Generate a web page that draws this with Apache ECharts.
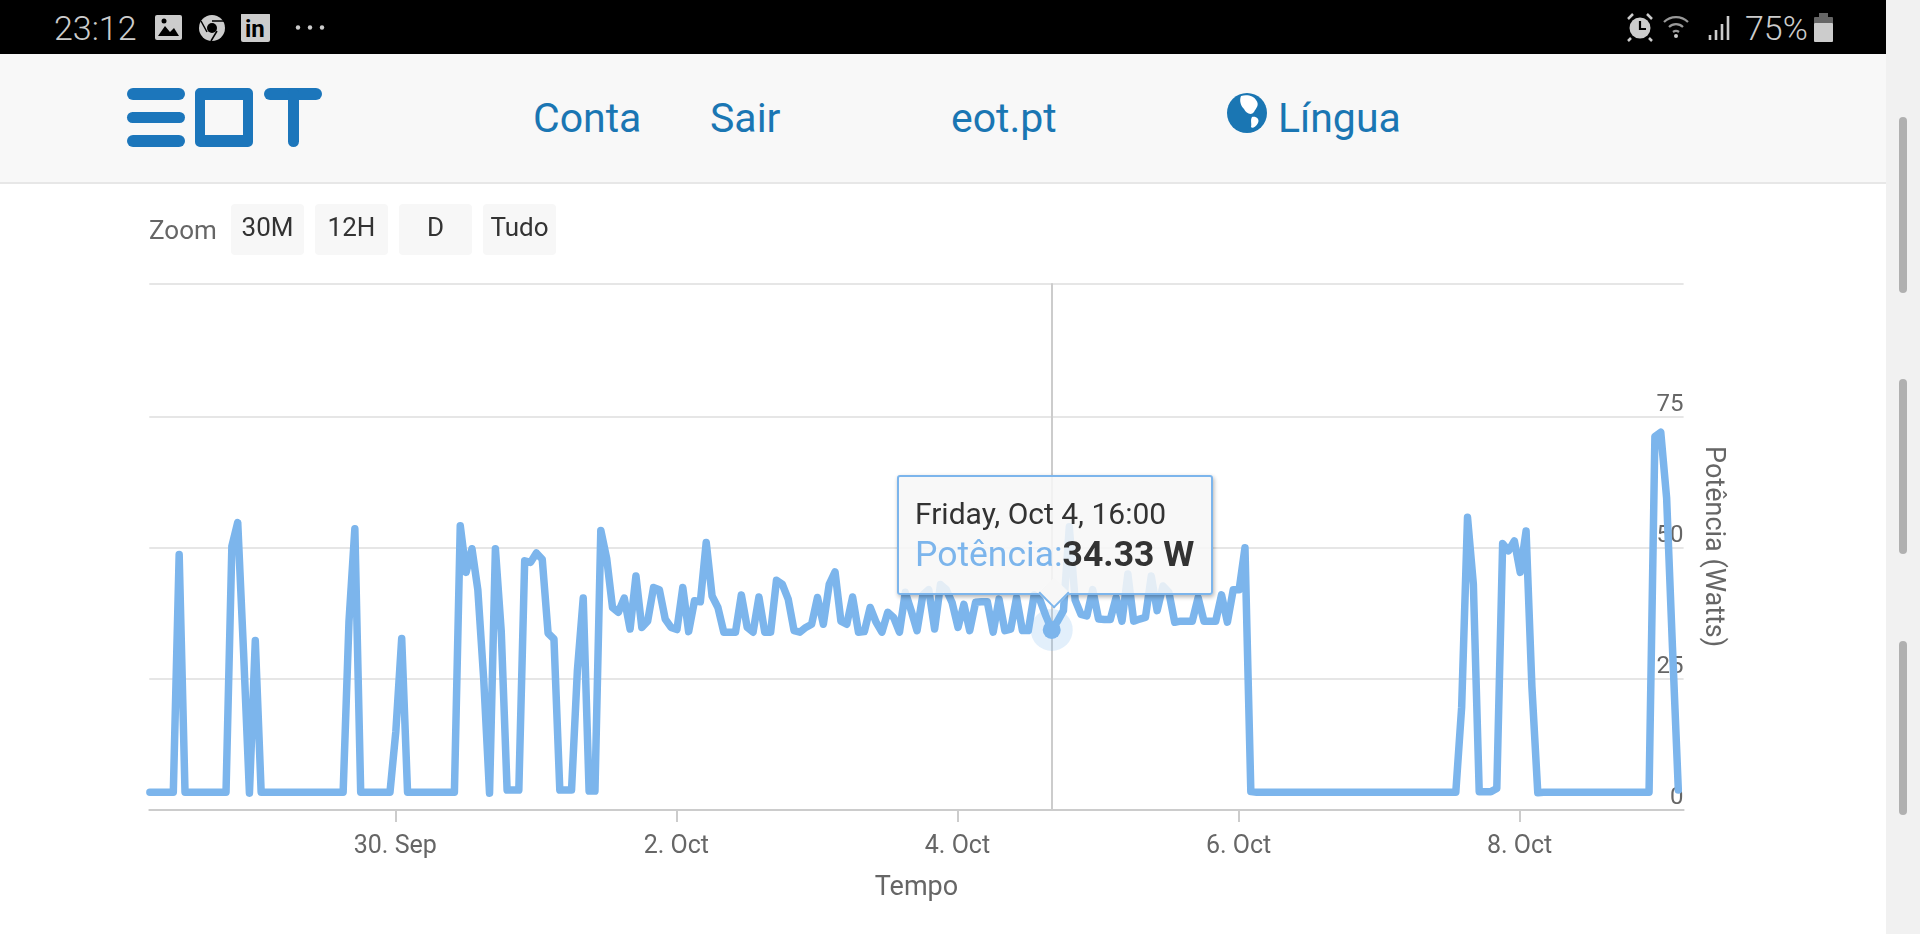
<!DOCTYPE html>
<html>
<head>
<meta charset="utf-8">
<title>EOT</title>
<script src="https://cdn.jsdelivr.net/npm/echarts@6/dist/echarts.min.js"></script>
<style>
html, body { margin: 0; padding: 0; background: #fff; overflow: hidden; font-family: Roboto, sans-serif; }
#chart { position: absolute; left: 0; top: 0; width: 1920px; height: 934px; }
.abs { position: absolute; white-space: nowrap; }
#status { left: 0; top: 0; width: 1886px; height: 54px; background: #000; }
#nav { left: 0; top: 54px; width: 1886px; height: 128px; background: #f8f8f8; border-bottom: 2px solid #e7e7e7; }
#rail { left: 1886px; top: 0; width: 34px; height: 934px; background: #f1f1f1; }
.bar { position: absolute; background: #1c76bb; border-radius: 6px; }
.link { position: absolute; color: #1a76b3; font-size: 41px; line-height: 46px; top: 41px; }
.btn { position: absolute; top: 204px; width: 73px; height: 51px; background: #f7f7f7; border-radius: 4px; color: #333; font-size: 26px; line-height: 46px; text-align: center; }
.thumb { position: absolute; left: 1899px; width: 8px; border-radius: 4px; background: #b0b0b0; }
</style>
</head>
<body>
<div id="chart"></div>

<div class="abs" id="rail"></div>
<div class="abs" id="status">
  <span class="abs" style="left:54px;top:9px;color:#ccc;font-size:34px;line-height:38px;font-weight:300">23:12</span>
  <svg class="abs" style="left:155px;top:14px" width="120" height="30" viewBox="0 0 120 30">
    <rect x="0" y="1" width="27" height="25" rx="2" fill="#ccc"/>
    <path d="M3 22 L10 12 L15 18 L19 14 L24 22 Z" fill="#000"/><circle cx="9" cy="7" r="2.5" fill="#000"/>
    <circle cx="57" cy="14" r="13" fill="#ccc"/><circle cx="57" cy="14" r="5" fill="#000"/><path d="M57 7 L69 7 M52 18 L46 7 M62 17 L56 27" stroke="#000" stroke-width="1.5"/>
    <rect x="86" y="-1" width="29" height="29" rx="2" fill="#ccc"/>
    <text x="90" y="23" font-family="Roboto" font-weight="700" font-size="24" fill="#000">in</text>
  </svg>
  <svg class="abs" style="left:294px;top:24px" width="34" height="8"><circle cx="4" cy="3.5" r="2.2" fill="#ccc"/><circle cx="16" cy="3.5" r="2.2" fill="#ccc"/><circle cx="28" cy="3.5" r="2.2" fill="#ccc"/></svg>
  <svg class="abs" style="left:1626px;top:12px" width="110" height="30" viewBox="0 0 110 30">
    <circle cx="14" cy="16" r="10.5" fill="#ccc"/><path d="M14 9 L14 17 L20 17" stroke="#000" stroke-width="2.2" fill="none"/>
    <path d="M2 7 L7 2 M21 2 L26 7 M5 26 L2 29 M23 26 L26 29" stroke="#ccc" stroke-width="2.5"/>
    <path d="M38 10 A17 17 0 0 1 62 10 M43 15 A10 10 0 0 1 57 15 M47 20 A5 5 0 0 1 53 20" stroke="#999" stroke-width="2.2" fill="none"/>
    <circle cx="50" cy="24" r="2" fill="#ccc"/>
    <path d="M84 28 V23 M90 28 V18 M96 28 V12 M102 28 V4" stroke="#ccc" stroke-width="2.6"/>
  </svg>
  <span class="abs" style="left:1745px;top:9px;color:#ccc;font-size:34px;line-height:38px;font-weight:300">75%</span>
  <svg class="abs" style="left:1814px;top:13px" width="19" height="29"><rect x="5" y="0" width="9" height="5" fill="#666"/><rect x="0" y="4" width="19" height="7" rx="1" fill="#666"/><rect x="0" y="10" width="19" height="19" rx="1" fill="#ccc"/></svg>
</div>

<div class="abs" id="nav">
  <div class="bar" style="left:127px;top:34px;width:58px;height:12px"></div>
  <div class="bar" style="left:127px;top:58px;width:58px;height:11px"></div>
  <div class="bar" style="left:127px;top:81px;width:58px;height:12px"></div>
  <div style="position:absolute;left:195px;top:34px;width:38px;height:35px;border:solid #1c76bb;border-width:12px 10px;border-radius:5px"></div>
  <div class="bar" style="left:264px;top:34px;width:58px;height:12px"></div>
  <div class="bar" style="left:288px;top:34px;width:11px;height:59px"></div>
  <span class="link" style="left:533px">Conta</span>
  <span class="link" style="left:710px">Sair</span>
  <span class="link" style="left:951px">eot.pt</span>
  <svg class="abs" style="left:1227px;top:39px" width="40" height="40" viewBox="0 0 40 40">
    <circle cx="20" cy="20" r="20" fill="#1a76b3"/>
    <path d="M14 3 C20 1 27 3 29 7 C33 12 29 15 27 19 C24 23 19 20 17 16 C14 13 12 8 14 3 Z M25 24 C29 23 33 26 31 30 C29 34 25 36 24 34 C25 31 23 27 25 24 Z" fill="#fff"/>
  </svg>
  <span class="link" style="left:1278px">Língua</span>
</div>

<span class="abs" style="left:149px;top:214px;color:#666;font-size:26px;line-height:32px">Zoom</span>
<div class="btn" style="left:231px">30M</div>
<div class="btn" style="left:315px">12H</div>
<div class="btn" style="left:399px">D</div>
<div class="btn" style="left:483px">Tudo</div>

<div class="thumb" style="top:117px;height:176px"></div>
<div class="thumb" style="top:379px;height:175px"></div>
<div class="thumb" style="top:641px;height:174px"></div>

<script>
// hourly readings, first one taken just after 06:00 on 28 Sep
const startTime = new Date(2019, 8, 28, 6, 6).getTime()
const axisMin = new Date(2019, 8, 28, 6, 0).getTime()
const axisMax = new Date(2019, 9, 9, 4, 0).getTime()
const HOUR = 3600 * 1000

const power = [
    3.4, 3.4, 3.4, 3.4, 3.4, 48.7, 3.4, 3.4, 3.4, 3.4,
    3.4, 3.4, 3.4, 3.4, 50.3, 54.8, 30, 3.2, 32.3, 3.4,
    3.4, 3.4, 3.4, 3.4, 3.4, 3.4, 3.4, 3.4, 3.4, 3.4,
    3.4, 3.4, 3.4, 3.4, 36, 53.6, 3.4, 3.4, 3.4, 3.4,
    3.4, 3.4, 15, 32.7, 3.4, 3.4, 3.4, 3.4, 3.4, 3.4,
    3.4, 3.4, 3.4, 54.2, 45.3, 49.8, 42, 25, 3.2, 49.8,
    34, 3.8, 3.8, 3.8, 47.5, 47.2, 49, 47.8, 33.7, 32.6,
    3.8, 3.8, 3.8, 26.6, 40.4, 3.6, 3.6, 53.3, 48, 38.6,
    37.7, 40.4, 34.5, 44.6, 34.8, 36, 42.4, 42, 36.4, 34.8,
    34.4, 42.4, 34, 39.9, 39.7, 51, 40.8, 38.6, 33.9, 33.9,
    33.9, 41, 34.8, 33.9, 40.6, 33.9, 33.9, 43.8, 43, 40.2,
    34.2, 33.9, 34.8, 35.4, 40.5, 35.4, 43, 45.4, 36, 35.4,
    40.6, 33.9, 34, 38.6, 35.8, 33.9, 37.7, 36.7, 33.9, 41.5,
    38, 34.2, 41, 42, 34.5, 43, 42, 39.5, 34.8, 39.2,
    34.2, 39.6, 39.7, 39.7, 33.9, 40.2, 34.2, 34.5, 40.5, 34.2,
    34.2, 41, 40, 37, 34.33, 36, 38, 54, 40, 37.3,
    37, 42, 36.4, 36.3, 36.3, 40.5, 36, 45, 36, 36.4,
    36.7, 44.6, 38, 42.7, 41.5, 35.8, 36, 36, 36, 40.5,
    36, 36, 36, 41, 35.8, 42, 42, 50, 3.5, 3.4,
    3.4, 3.4, 3.4, 3.4, 3.4, 3.4, 3.4, 3.4, 3.4, 3.4,
    3.4, 3.4, 3.4, 3.4, 3.4, 3.4, 3.4, 3.4, 3.4, 3.4,
    3.4, 3.4, 3.4, 3.4, 3.4, 3.4, 3.4, 3.4, 3.4, 3.4,
    3.4, 3.4, 3.4, 3.4, 19.6, 55.8, 43, 3.5, 3.5, 3.5,
    4.1, 50.8, 49.4, 51.3, 45.3, 53.2, 23.4, 3.3, 3.4, 3.4,
    3.4, 3.4, 3.4, 3.4, 3.4, 3.4, 3.4, 3.4, 3.4, 3.4,
    3.4, 3.4, 3.4, 3.4, 3.4, 3.4, 3.4, 71.2, 72, 59.5,
    31, 3.8,
]
const selectedIndex = 154

const tickTimes = [
    new Date(2019, 8, 30).getTime(),
    new Date(2019, 9, 2).getTime(),
    new Date(2019, 9, 4).getTime(),
    new Date(2019, 9, 6).getTime(),
    new Date(2019, 9, 8).getTime(),
]
const tickLabels = ['30. Sep', '2. Oct', '4. Oct', '6. Oct', '8. Oct']
const yLabelValues = [0, 25, 50, 75]
const yLineValues = [0, 25, 50, 75, 100.4]
const yMax = 100.4

const seriesData = power.map((v, i) => [startTime + i * HOUR, v])

const tipHtml = `
<div style="position:relative;width:312px;height:116px;box-sizing:border-box;padding:18px 0 0 16px">
    <div style="font-size:30px;line-height:38px;color:#333">Friday, Oct 4, 16:00</div>
    <div style="font-size:35.5px;line-height:42px;color:#7cb5ec">Potência:<b style="color:#333">34.33 W</b></div>
    <div style="position:absolute;left:144px;top:105px;width:20px;height:20px;background:#f7f7f7;transform:rotate(45deg);border:solid #7cb5ec;border-width:0 2px 2px 0"></div>
</div>`

const chart = echarts.init(document.getElementById('chart'), null, { renderer: 'canvas' })
chart.setOption({
    animation: false,
    textStyle: { fontFamily: 'Roboto' },
    grid: { left: 149.3, right: 236.4, top: 283.3, bottom: 124 },
    tooltip: {
        trigger: 'axis',
        alwaysShowContent: true,
        transitionDuration: 0,
        padding: 0,
        borderWidth: 2.5,
        borderColor: '#7cb5ec',
        backgroundColor: 'rgba(247,247,247,0.85)',
        extraCssText: 'border-radius:3px;box-shadow:1px 2px 4px rgba(0,0,0,0.3);',
        axisPointer: { type: 'line', z: 1, label: { show: false }, lineStyle: { color: '#ccc', width: 2, type: 'solid' } },
        position(point) {
            return [point[0] - 155, point[1] - 155]
        },
        formatter() {
            return tipHtml
        },
    },
    xAxis: {
        type: 'value',
        min: axisMin,
        max: axisMax,
        name: 'Tempo',
        nameLocation: 'middle',
        nameGap: 65,
        nameTextStyle: { color: '#666', fontSize: 27 },
        axisLine: { lineStyle: { color: '#ccc', width: 2 } },
        axisTick: { length: 12, lineStyle: { color: '#ccc', width: 2 }, customValues: tickTimes },
        axisLabel: {
            color: '#666',
            fontSize: 25,
            margin: 24,
            customValues: tickTimes,
            formatter(value) {
                return tickLabels[tickTimes.indexOf(value)]
            },
        },
        splitLine: { show: false },
    },
    yAxis: {
        type: 'value',
        position: 'right',
        min: 0,
        max: yMax,
        name: 'Potência (Watts)',
        nameLocation: 'middle',
        nameRotate: -90,
        nameGap: 16,
        nameTextStyle: { color: '#666', fontSize: 27 },
        axisLine: { show: false },
        axisTick: { show: false, customValues: yLineValues },
        axisLabel: {
            inside: true,
            color: '#666',
            fontSize: 24,
            margin: 0,
            verticalAlign: 'bottom',
            customValues: yLabelValues,
        },
        splitLine: { lineStyle: { color: '#e6e6e6', width: 2 } },
    },
    series: [
        {
            name: 'Potência',
            type: 'line',
            data: seriesData,
            symbol: 'none',
            lineStyle: { color: '#7cb5ec', width: 7.5, join: 'round', cap: 'round' },
            itemStyle: { color: '#7cb5ec' },
            emphasis: { disabled: true },
            markPoint: {
                silent: true,
                animation: false,
                symbol: 'circle',
                label: { show: false },
                data: [
                    { coord: seriesData[selectedIndex], symbolSize: 42, itemStyle: { color: '#7cb5ec', opacity: 0.22 } },
                    { coord: seriesData[selectedIndex], symbolSize: 18, itemStyle: { color: '#7cb5ec' } },
                ],
            },
        },
    ],
})
chart.dispatchAction({ type: 'showTip', seriesIndex: 0, dataIndex: selectedIndex })
</script>
</body>
</html>
